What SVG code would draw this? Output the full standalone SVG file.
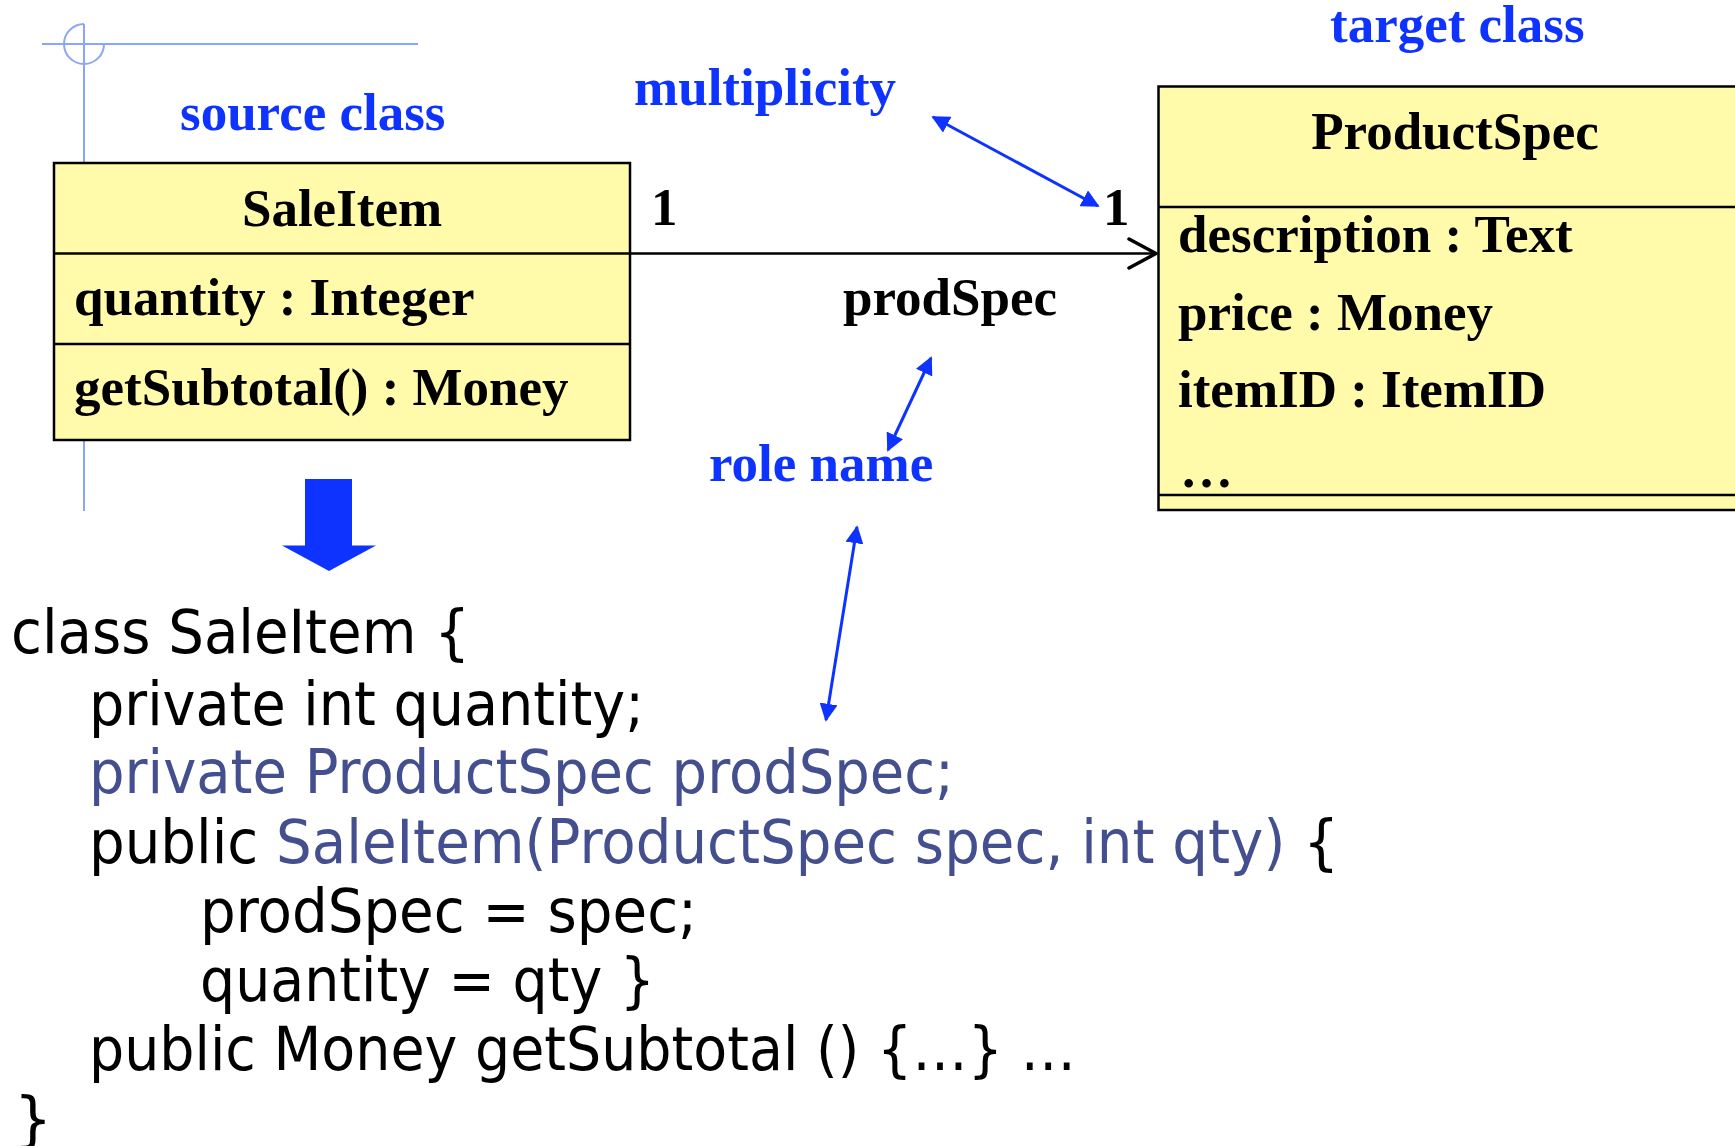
<svg xmlns="http://www.w3.org/2000/svg" width="1735" height="1146" viewBox="0 0 1735 1146">
  <style>
    .uml { font-family: "Liberation Serif", "Times New Roman", serif; font-weight: bold; font-size: 53px; fill: #000; }
    .note { font-family: "Liberation Serif", "Times New Roman", serif; font-weight: bold; font-size: 53px; fill: #0f33ff; }
    .box { fill: #fffbaa; stroke: #000; stroke-width: 2.5; }
    .div { stroke: #000; stroke-width: 2.5; }
    .code { font-family: "DejaVu Sans", Verdana, sans-serif; font-size: 60px; fill: #000; }
    .hl { fill: #434f8f; }
    .guide { stroke: #8aa6f6; stroke-width: 2; fill: none; }
    .pointer { stroke: #0f33ff; stroke-width: 3; fill: none; }
  </style>
  <defs>
    <marker id="tip" viewBox="0 0 10 10" refX="9" refY="5" markerWidth="6" markerHeight="6" markerUnits="strokeWidth" orient="auto-start-reverse">
      <path d="M0,0 L10,5 L0,10 Z" fill="#0f33ff"/>
    </marker>
  </defs>

  <rect width="1735" height="1146" fill="#fff"/>

  <!-- layout guide cross -->
  <g id="guide">
    <line class="guide" x1="42" y1="44" x2="418" y2="44"/>
    <line class="guide" x1="84" y1="24" x2="84" y2="511"/>
    <path class="guide" d="M84 24 A20 20 0 1 0 104 44"/>
  </g>

  <!-- annotations -->
  <g id="labels">
    <text class="note" x="180" y="130">source class</text>
    <text class="note" x="634" y="105">multiplicity</text>
    <text class="note" x="1330" y="42">target class</text>
    <text class="note" x="709" y="481">role name</text>
  </g>

  <!-- source class -->
  <g id="saleitem">
    <rect class="box" x="54" y="163" width="576" height="277"/>
    <line class="div" x1="54" y1="253.5" x2="630" y2="253.5"/>
    <line class="div" x1="54" y1="344" x2="630" y2="344"/>
    <text class="uml" x="342" y="226" text-anchor="middle">SaleItem</text>
    <text class="uml" x="74" y="315">quantity : Integer</text>
    <text class="uml" x="74" y="405">getSubtotal() : Money</text>
  </g>

  <!-- target class -->
  <g id="productspec">
    <rect class="box" x="1158.5" y="86.5" width="620" height="423.5"/>
    <line class="div" x1="1158.5" y1="207" x2="1760" y2="207"/>
    <line class="div" x1="1158.5" y1="495" x2="1760" y2="495"/>
    <text class="uml" x="1455" y="149" text-anchor="middle">ProductSpec</text>
    <text class="uml" x="1178" y="252">description : Text</text>
    <text class="uml" x="1178" y="330">price : Money</text>
    <text class="uml" x="1178" y="407">itemID : ItemID</text>
    <text class="uml" x="1180" y="487">…</text>
  </g>

  <!-- association and pointers -->
  <g id="connectors">
    <line x1="630" y1="253.5" x2="1156" y2="253.5" stroke="#000" stroke-width="2.5"/>
    <path d="M1129 239 L1156 253.5 L1129 268" fill="none" stroke="#000" stroke-width="3.5" stroke-linecap="round" stroke-linejoin="round"/>
    <text class="uml" x="651" y="225">1</text>
    <text class="uml" x="1103" y="225">1</text>
    <text class="uml" x="843" y="315">prodSpec</text>
    <line class="pointer" x1="933" y1="117" x2="1098" y2="206" marker-start="url(#tip)" marker-end="url(#tip)"/>
    <line class="pointer" x1="931" y1="358" x2="888" y2="450" marker-start="url(#tip)" marker-end="url(#tip)"/>
    <line class="pointer" x1="857" y1="527" x2="826" y2="720" marker-start="url(#tip)" marker-end="url(#tip)"/>
    <path id="generates" d="M305 479 H352 V545.5 H376 L329 571 L282 545.5 H305 Z" fill="#0f33ff"/>
  </g>

  <!-- generated code -->
  <g id="code">
    <text class="code" x="11" y="653" textLength="459" lengthAdjust="spacingAndGlyphs">class SaleItem {</text>
    <text class="code" x="89" y="725" textLength="555" lengthAdjust="spacingAndGlyphs">private int quantity;</text>
    <text class="code hl" x="89" y="793" textLength="865" lengthAdjust="spacingAndGlyphs">private ProductSpec prodSpec;</text>
    <text class="code" x="89" y="863" textLength="1250" lengthAdjust="spacingAndGlyphs">public <tspan class="hl">SaleItem(ProductSpec spec, int qty)</tspan> {</text>
    <text class="code" x="200" y="932" textLength="497" lengthAdjust="spacingAndGlyphs">prodSpec = spec;</text>
    <text class="code" x="200" y="1001" textLength="455" lengthAdjust="spacingAndGlyphs">quantity = qty }</text>
    <text class="code" x="89" y="1070" textLength="987" lengthAdjust="spacingAndGlyphs">public Money getSubtotal () {…} …</text>
    <text class="code" x="14" y="1140">}</text>
  </g>
</svg>
